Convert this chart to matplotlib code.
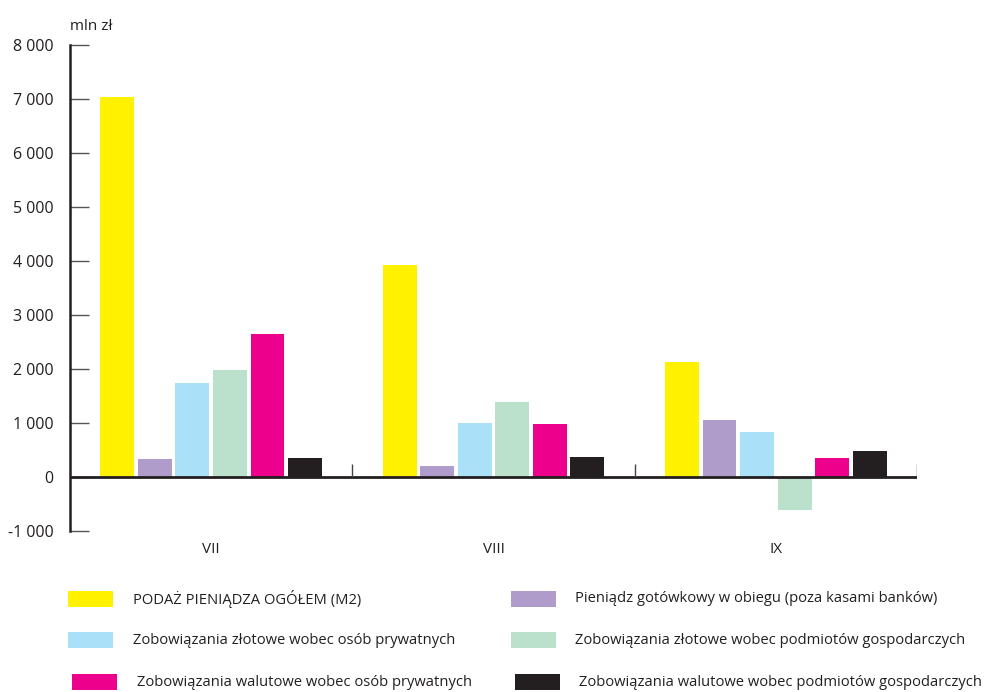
import matplotlib
matplotlib.use("Agg")
import matplotlib.pyplot as plt
from matplotlib.patches import Rectangle
import numpy as np

plt.rcParams['font.family'] = ['Open Sans', 'DejaVu Sans']

categories = ["VII", "VIII", "IX"]
series_names = [
    "PODAŻ PIENIĄDZA OGÓŁEM (M2)",
    "Pieniądz gotówkowy w obiegu (poza kasami banków)",
    "Zobowiązania złotowe wobec osób prywatnych",
    "Zobowiązania złotowe wobec podmiotów gospodarczych",
    "Zobowiązania walutowe wobec osób prywatnych",
    "Zobowiązania walutowe wobec podmiotów gospodarczych",
]
m2 = [7040, 3930, 2130]
cash = [330, 200, 1050]
pln_private = [1750, 1000, 830]
pln_business = [1985, 1390, -620]
fx_private = [2640, 980, 350]
fx_business = [350, 370, 480]
series_values = [m2, cash, pln_private, pln_business, fx_private, fx_business]
colors = ["#FFF100", "#B09CCB", "#ABE0F9", "#BBE1CD", "#EC008C", "#231F20"]
yticks = [-1000, 0, 1000, 2000, 3000, 4000, 5000, 6000, 7000, 8000]
ytick_labels = ["-1 000", "0", "1 000", "2 000", "3 000", "4 000", "5 000", "6 000", "7 000", "8 000"]

fig = plt.figure(figsize=(9.9, 6.92), dpi=100)
ax = fig.add_axes([70/990, 1-531/692, (917-70)/990, (531-45)/692])

x = np.arange(len(categories))
pitch = 0.133
width = 0.12
for i, (vals, col) in enumerate(zip(series_values, colors)):
    ax.bar(x + (i - 2.5) * pitch, vals, width=width, color=col, linewidth=0, zorder=2)

ax.set_xlim(-0.5, 2.5)
ax.set_ylim(-1000, 8000)
ax.axhline(0, color="#231F20", lw=2, zorder=3)
ax.vlines([0.5, 1.5, 2.5], 0, 240, color="#444444", lw=1, zorder=3)

for s in ["top", "right", "bottom"]:
    ax.spines[s].set_visible(False)
ax.spines["left"].set_color("#231F20")
ax.spines["left"].set_linewidth(1.8)

ax.set_yticks(yticks)
ax.set_yticklabels(ytick_labels)
ax.tick_params(axis="y", direction="in", length=14, width=1, color="#555555",
               labelsize=11.5, pad=12, labelcolor="#231F20")
ax.set_xticks(x)
ax.set_xticklabels(categories)
ax.tick_params(axis="x", length=0, labelsize=11, pad=8, labelcolor="#231F20")

fig.text(70/990, 1-27/692, "mln zł", fontsize=11, color="#231F20", va="center", ha="left")

# legend
rows_y = [599, 640, 682]
col_patch_x = [68, 511]
col_text_x = [133, 575]
for i, (name, col) in enumerate(zip(series_names, colors)):
    r, c = divmod(i, 2)
    px = col_patch_x[c] + (4 if r == 2 else 0)
    tx = col_text_x[c] + (4 if r == 2 else 0)
    yc = rows_y[r]
    fig.patches.append(Rectangle((px/990, 1-(yc+8)/692), 45/990, 16/692,
                                 transform=fig.transFigure, color=col, lw=0))
    fig.text(tx/990, 1-yc/692, name, fontsize=10.6, color="#231F20", va="center", ha="left")

fig.savefig("out.png", dpi=100)
